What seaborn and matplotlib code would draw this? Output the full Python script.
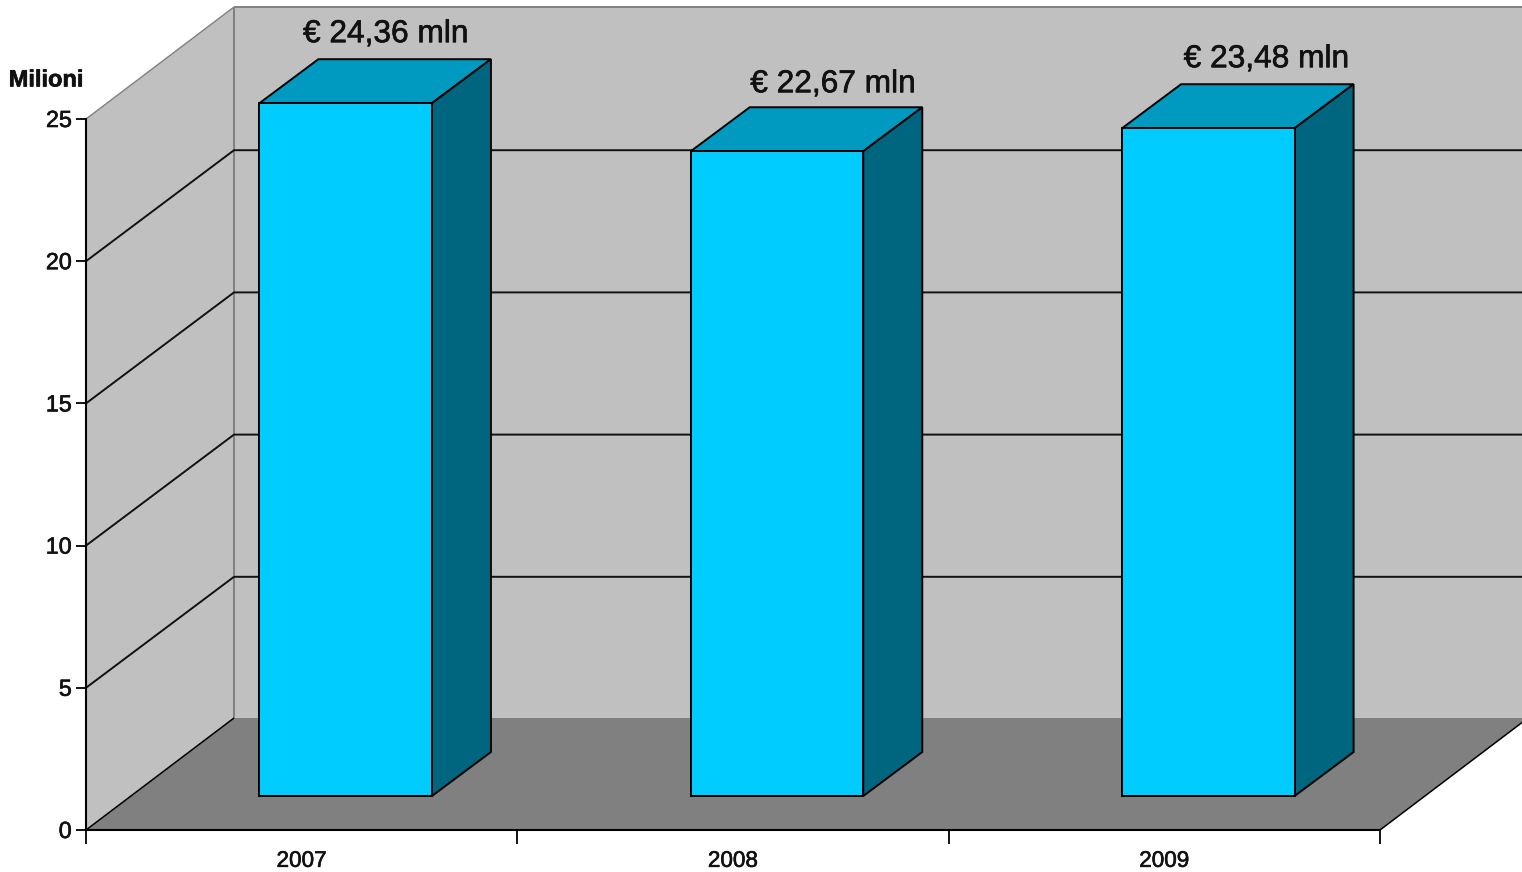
import matplotlib
matplotlib.use("Agg")
import matplotlib.pyplot as plt
import matplotlib.patheffects as pe
import seaborn as sns
import pandas as pd
from matplotlib.patches import Polygon
from matplotlib.transforms import Affine2D

years = ["2007", "2008", "2009"]
values = [24.36, 22.67, 23.48]
y_ticks = [0, 5, 10, 15, 20, 25]
label_shift_px = [(40, -69), (56, -67), (58, -69)]

W, H = 1522, 872
AX_L, AX_B, AX_W, AX_H = 86, 830, 1294, 711
WALL = (148, 112)      # depth of the box, px
GRID_DY = 111          # rise of the gridlines on the side wall, px
BAR_OFF = (44, 34)     # bar front offset from front plane, px
BAR_D = (59, 44)       # bar depth, px
LW = 1.4

sns.set_theme(style="white")
plt.rcParams["font.family"] = ["Liberation Sans", "DejaVu Sans"]

fig = plt.figure(figsize=(W / 100, H / 100), dpi=100, facecolor="white")
ax = fig.add_axes([AX_L / W, (H - AX_B) / H, AX_W / W, AX_H / H])
ax.patch.set_visible(False)

df = pd.DataFrame({"year": years, "value": values})
sns.barplot(data=df, x="year", y="value", width=0.4, color="#00CCFF", saturation=1,
            edgecolor="black", linewidth=LW, ax=ax, zorder=6)
ax.set_xlim(-0.5, 2.5)
ax.set_ylim(0, 25)

fx = AX_W / 3
fy = AX_H / 25
wdx, wdy = WALL[0] / fx, WALL[1] / fy
gdy = GRID_DY / fy
odx, ody = BAR_OFF[0] / fx, BAR_OFF[1] / fy
bdx, bdy = BAR_D[0] / fx, BAR_D[1] / fy
xl, xr = -0.5, 2.5
top = 25
heavy = [pe.withStroke(linewidth=0.45, foreground="#111111")]


def poly(pts, face, edge="none", lw=0, z=1):
    ax.add_patch(Polygon(pts, closed=True, facecolor=face, edgecolor=edge, linewidth=lw,
                         clip_on=False, zorder=z, joinstyle="miter"))


# walls and floor
poly([(xl + wdx, wdy), (xr + wdx + 0.2, wdy), (xr + wdx + 0.2, top + wdy), (xl + wdx, top + wdy)], "#C0C0C0", z=1)
poly([(xl, 0), (xl + wdx, wdy), (xl + wdx, top + wdy), (xl, top)], "#C0C0C0", z=1)
poly([(xl, 0), (xr, 0), (xr + wdx, wdy), (xl + wdx, wdy)], "#808080", z=2)

# box edges
ln = dict(clip_on=False, solid_capstyle="butt")
ax.plot([xl + wdx, xl + wdx], [wdy, top + wdy], color="#808080", lw=1.4, zorder=3, **ln)
ax.plot([xl + wdx, xr + wdx + 0.2], [top + wdy, top + wdy], color="#808080", lw=1.4, zorder=3, **ln)
ax.plot([xl, xl + wdx], [top, top + wdy], color="#808080", lw=1.0, zorder=3, **ln)
ax.plot([xl, xl + wdx], [0, wdy], color="black", lw=1.1, zorder=3, **ln)
ax.plot([xr, xr + wdx], [0, wdy], color="black", lw=1.1, zorder=3, **ln)

# gridlines on side and back walls
for t in y_ticks[1:-1]:
    ax.plot([xl, xl + wdx, xr + wdx + 0.2], [t, t + gdy, t + gdy], color="#111111", lw=LW, zorder=3, **ln)

# bars: front faces come from seaborn, depth faces follow their geometry
shift = ax.transData + Affine2D().translate(BAR_OFF[0], BAR_OFF[1])
for bar, val, (sx, sy) in zip(list(ax.patches)[:3], values, label_shift_px):
    x0, w, h = bar.get_x(), bar.get_width(), bar.get_height()
    bar.set_transform(shift)
    bar.set_clip_on(False)
    bar.set_zorder(6)
    x0o, x1o = x0 + odx, x0 + w + odx
    y0o, y1o = ody, h + ody
    poly([(x0o, y1o), (x1o, y1o), (x1o + bdx, y1o + bdy), (x0o + bdx, y1o + bdy)],
         "#0099BF", "black", LW, 5)
    poly([(x1o, y0o), (x1o + bdx, y0o + bdy), (x1o + bdx, y1o + bdy), (x1o, y1o)],
         "#006680", "black", LW, 5)
    ax.annotate(f"€ {val:.2f} mln".replace(".", ","), xy=(x0 + w / 2, h), xycoords=shift,
                xytext=(sx, -sy), textcoords="offset pixels", ha="center", va="center",
                fontsize=22.8, color="#111111", zorder=7, annotation_clip=False,
                path_effects=heavy)

# axes
for s in ["top", "right"]:
    ax.spines[s].set_visible(False)
for s in ["left", "bottom"]:
    ax.spines[s].set_visible(True)
    ax.spines[s].set_color("black")
    ax.spines[s].set_linewidth(1.5)
    ax.spines[s].set_zorder(8)
ax.set_yticks(y_ticks)
ax.set_xticks([0, 1, 2], years)
ax.set_xticks([-0.5, 0.5, 1.5, 2.5], minor=True)
ax.tick_params(axis="y", which="major", left=True, length=7.2, width=1.3, pad=3, labelsize=16.8, color="black", labelcolor="#111111")
ax.tick_params(axis="x", which="major", bottom=False, length=0, pad=15, labelsize=16.2, labelcolor="#111111")
ax.tick_params(axis="x", which="minor", bottom=True, length=10, width=1.3, color="black")
ax.set_xlabel("")
ax.set_ylabel("Milioni", rotation=0, fontsize=17, fontweight="bold", ha="center", va="center", color="#111111",
              path_effects=heavy)
ax.yaxis.set_label_coords((46 - AX_L) / AX_W, (AX_B - 80) / AX_H)
for lbl in ax.get_yticklabels():
    lbl.set_transform(lbl.get_transform() + Affine2D().translate(0, 1))
    lbl.set_path_effects(heavy)
for lbl in ax.get_xticklabels():
    lbl.set_path_effects(heavy)

fig.savefig("out.png", dpi=100, facecolor="white")
